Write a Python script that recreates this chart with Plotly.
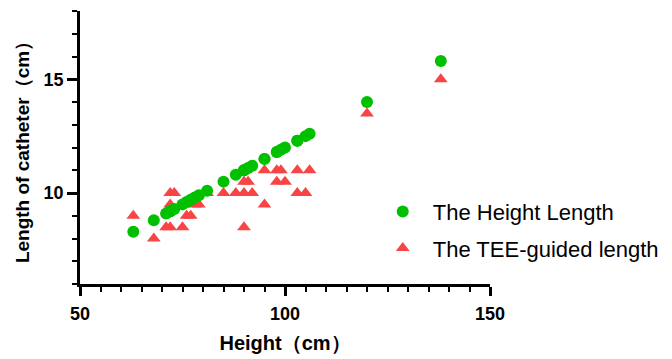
import plotly.graph_objects as go

# Patient heights (cm)
height = [63, 68, 71, 72, 72, 73, 72, 75, 76, 77, 78, 79, 81, 85, 88, 90,
          92, 90, 91, 90, 95, 95, 98, 99, 98, 100, 103, 106, 103, 105, 120, 138]
# Catheter length from the height formula (cm)
height_length = [8.3, 8.8, 9.1, 9.2, 9.2, 9.3, 9.2, 9.5, 9.6, 9.7, 9.8, 9.9, 10.1, 10.5, 10.8, 11.0,
                 11.2, 11.0, 11.1, 11.0, 11.5, 11.5, 11.8, 11.9, 11.8, 12.0, 12.3, 12.6, 12.3, 12.5, 14.0, 15.8]
# TEE-guided catheter length (cm)
tee_length = [9.0, 8.0, 8.5, 8.5, 10.0, 10.0, 9.5, 8.5, 9.0, 9.0, 9.5, 9.5, 10.0, 10.0, 10.0, 10.0,
              10.0, 10.5, 10.5, 8.5, 9.5, 11.0, 11.0, 11.0, 10.5, 10.5, 11.0, 11.0, 10.0, 10.0, 13.5, 15.0]

GREEN = "#00C000"
RED = "#F84444"
FONT = "Liberation Sans"

fig = go.Figure()
fig.add_trace(go.Scatter(
    x=height, y=tee_length, mode="markers", name="The TEE-guided length",
    marker=dict(symbol="triangle-up", size=12, color=RED),
    legend="legend2", showlegend=True,
))
fig.add_trace(go.Scatter(
    x=height, y=height_length, mode="markers", name="The Height Length",
    marker=dict(symbol="circle", size=12, color=GREEN),
    legend="legend", showlegend=True,
))

axis_common = dict(
    showline=True, linecolor="black", linewidth=2.5,
    ticks="outside", tickcolor="black", tickwidth=2.5,
    showgrid=False, zeroline=False, automargin=False,
    tickfont=dict(family=FONT, size=18, color="black", weight="bold"),
)

legend_common = dict(xanchor="left", yanchor="middle", itemwidth=50,
                     font=dict(family=FONT, size=22, color="black"),
                     bgcolor="rgba(0,0,0,0)")

fig.update_layout(
    width=664, height=351,
    margin=dict(l=72, r=182, t=3, b=75),
    plot_bgcolor="white", paper_bgcolor="white",
    font=dict(family=FONT, color="black"),
    showlegend=True,
    xaxis=dict(
        range=[50, 150], dtick=50, tick0=0, ticklen=9, ticklabelstandoff=3,
        minor=dict(dtick=5, ticklen=5, tickwidth=2, tickcolor="black", ticks="outside"),
        title=dict(text="Height（cm）", standoff=13,
                   font=dict(family=FONT, size=20, color="black", weight="bold")),
        **axis_common,
    ),
    yaxis=dict(
        range=[6, 18], dtick=5, tick0=0, ticklen=10,
        minor=dict(dtick=1, ticklen=5, tickwidth=2, tickcolor="black", ticks="outside"),
        title=dict(text="Length of catheter（cm）", standoff=9,
                   font=dict(family=FONT, size=19, color="black", weight="bold")),
        **axis_common,
    ),
    legend=dict(x=0.714, y=0.2648, **legend_common),
    legend2=dict(x=0.714, y=0.1308, **legend_common),
)

fig.write_html("out.html")
